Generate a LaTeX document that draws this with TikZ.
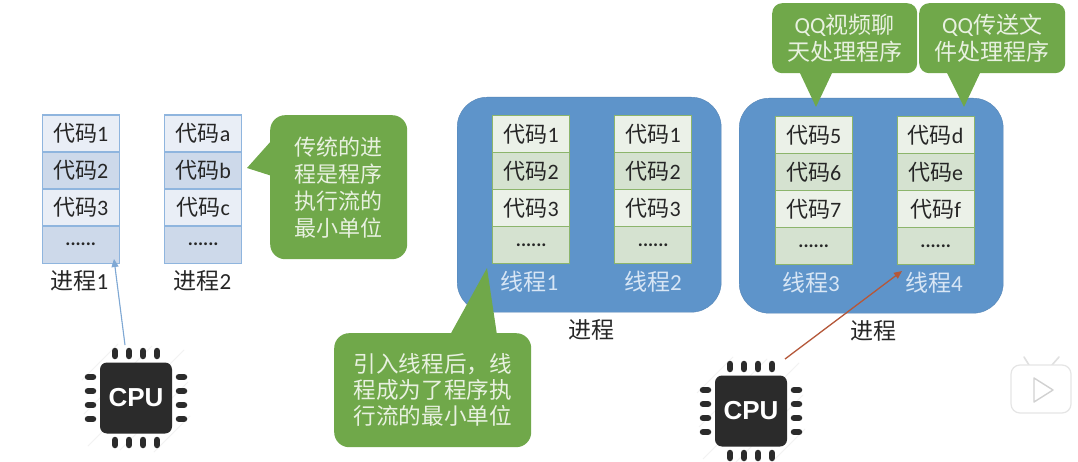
\documentclass[tikz,border=0pt]{standalone}
\usepackage{fontspec}
\setmainfont{Carlito}
\newfontfamily\cjk{Noto Sans CJK SC}
\newfontfamily\cpufont{Liberation Sans}
\usetikzlibrary{arrows.meta,calc}
\definecolor{panelblue}{HTML}{5E94CA}
\definecolor{calloutgreen}{HTML}{70A84A}
\definecolor{bluebord}{HTML}{8FB5DE}
\definecolor{bluelight}{HTML}{E9EEF6}
\definecolor{bluedark}{HTML}{CDD9EA}
\definecolor{greenbord}{HTML}{8CB56C}
\definecolor{greenlight}{HTML}{EBF1E8}
\definecolor{greendark}{HTML}{D5E2D0}
\definecolor{darktext}{HTML}{262626}
\definecolor{softwhite}{HTML}{E8F1E0}
\definecolor{paleblue}{HTML}{D8E6F5}
\definecolor{chipdark}{HTML}{2B2B2B}
\definecolor{arrowblue}{HTML}{7FA8D4}
\definecolor{arrowred}{HTML}{B5583A}
\newcommand{\zh}[1]{{\cjk #1}}
\tikzset{
  x=1pt,y=-1pt,
  rowbox/.style={minimum width=77pt,minimum height=37pt,inner sep=0pt,line width=1.4pt,font=\fontsize{22}{24}\selectfont,text=darktext,anchor=north west},
  bluelt/.style={rowbox,draw=bluebord,fill=bluelight},
  bluedk/.style={rowbox,draw=bluebord,fill=bluedark},
  greenlt/.style={rowbox,draw=greenbord,fill=greenlight},
  greendk/.style={rowbox,draw=greenbord,fill=greendark},
  dotsrow/.style={font=\fontsize{19}{19}\selectfont\bfseries},
  panelbox/.style={fill=panelblue,draw=panelblue!90!black,line width=.4pt,rounded corners=30pt,minimum width=264pt,minimum height=215pt,inner sep=0pt,anchor=north west},
  calloutbox/.style={fill=calloutgreen,rounded corners=15pt,inner sep=0pt,anchor=north west,text=softwhite,align=center,font=\fontsize{22}{27}\selectfont},
  tailfill/.style={fill=calloutgreen},
  captext/.style={font=\fontsize{23}{24}\selectfont,text=darktext,inner sep=0pt},
  threadcap/.style={font=\fontsize{23}{24}\selectfont,text=paleblue,inner sep=0pt},
  chippin/.style={line width=6.5pt,line cap=round,draw=chipdark},
  chipbody/.style={fill=chipdark,rounded corners=7pt,minimum width=72pt,minimum height=71pt,inner sep=0pt,text=white,font=\fontsize{26}{26}\selectfont\cpufont\bfseries},
  hatchline/.style={draw=black!5,line width=1pt},
}
% name, x, y, labels, light style, dark style
\newcommand{\stack}[8]{
  \node[#7] (#1r1) at (#2,#3) {\zh{代码}#4};
  \node[#8] (#1r2) at (#2,#3+37) {\zh{代码}#5};
  \node[#7] (#1r3) at (#2,#3+74) {\zh{代码}#6};
  \node[#8,dotsrow] (#1r4) at (#2,#3+111) {......};
}
\newcommand{\cpu}[3]{
  \foreach \d/\l in {-36/18,-18/34,0/48,18/34,36/18}{
    \draw[hatchline] (#2-\l+\d,#3+\l+\d) -- (#2+\l+\d,#3-\l+\d);
  }
  \foreach \p in {-21,-7,7,21}{
    \draw[chippin] (#2+\p,#3-47) -- (#2+\p,#3-42);
    \draw[chippin] (#2+\p,#3+42) -- (#2+\p,#3+47);
    \draw[chippin] (#2-48,#3+\p) -- (#2-43,#3+\p);
    \draw[chippin] (#2+43,#3+\p) -- (#2+48,#3+\p);
  }
  \node[chipbody] (#1) at (#2,#3) {CPU};
}
\begin{document}
\begin{tikzpicture}
\useasboundingbox (0,0) rectangle (1078,462);
\fill[white] (0,0) rectangle (1078,462);

% panels
\node[panelbox] (pa) at (457,97) {};
\node[panelbox] (pb) at (739,98) {};

% stacks
\stack{s}{41.5}{114.5}{1}{2}{3}{bluelt}{bluedk}
\stack{t}{164}{114.5}{a}{b}{c}{bluelt}{bluedk}
\stack{u}{492}{115}{1}{2}{3}{greenlt}{greendk}
\stack{v}{614}{115}{1}{2}{3}{greenlt}{greendk}
\stack{w}{774.5}{116}{5}{6}{7}{greenlt}{greendk}
\stack{z}{896.5}{116}{d}{e}{f}{greenlt}{greendk}

% captions
\node[captext] (c1) at (79.5,281) {\zh{进程}1};
\node[captext] (c2) at (202.5,281) {\zh{进程}2};
\node[threadcap] (l1) at (529.5,282) {\zh{线程}1};
\node[threadcap] (l2) at (653,282) {\zh{线程}2};
\node[threadcap] (l3) at (811,283) {\zh{线程}3};
\node[threadcap] (l4) at (934,283) {\zh{线程}4};
\node[captext] (p1) at (591,330) {\zh{进程}};
\node[captext] (p2) at (873,331) {\zh{进程}};

% callouts
\fill[tailfill] (272,140) -- (247,168) -- (272,176) -- cycle;
\node[calloutbox,minimum width=137pt,minimum height=144pt] (n1) at (270,115)
  {\zh{传统的进}\\\zh{程是程序}\\\zh{执行流的}\\\zh{最小单位}};
\fill[tailfill] (450,335) -- (487,268) -- (497,335) -- cycle;
\node[calloutbox,minimum width=197pt,minimum height=114pt,font=\fontsize{22.6}{26}\selectfont] (n2) at (334,333)
  {\zh{引入线程后，线}\\\zh{程成为了程序执}\\\zh{行流的最小单位}};
\fill[tailfill] (799,71) -- (816,107) -- (833,71) -- cycle;
\node[calloutbox,minimum width=145pt,minimum height=70pt,rounded corners=10pt,font=\fontsize{23}{27}\selectfont] (n3) at (772,3)
  {QQ\zh{视频聊}\\\zh{天处理程序}};
\fill[tailfill] (946,71) -- (964,107) -- (981,71) -- cycle;
\node[calloutbox,minimum width=146pt,minimum height=70pt,rounded corners=10pt,font=\fontsize{23}{27}\selectfont] (n4) at (919,3)
  {QQ\zh{传送文}\\\zh{件处理程序}};

% cpus
\cpu{cpua}{136}{398}
\cpu{cpub}{751}{411}

% arrows
\coordinate (a1) at (125,345);
\coordinate (a2) at (114,259);
\coordinate (b1) at (785,359);
\coordinate (b2) at (902,271);
\draw[-{Triangle[length=8pt,width=7pt]},draw=arrowblue,fill=arrowblue,line width=1.1pt] (a1) -- (a2);
\draw[-{Triangle[length=8pt,width=7pt]},draw=arrowred,fill=arrowred,line width=1.3pt] (b1) -- (b2);

% player badge
\draw[black!12,line width=1.6pt,line cap=round] (1029,365) -- (1024,357) (1052,365) -- (1059,357);
\node[fill=white,draw=black!10,line width=1.2pt,rounded corners=9pt,minimum width=60pt,minimum height=48pt,inner sep=0pt] (badge) at (1041,389) {};
\draw[black!18,line width=1.4pt,line join=round] (1034,378) -- (1053,390) -- (1034,402) -- cycle;
\end{tikzpicture}
\end{document}
